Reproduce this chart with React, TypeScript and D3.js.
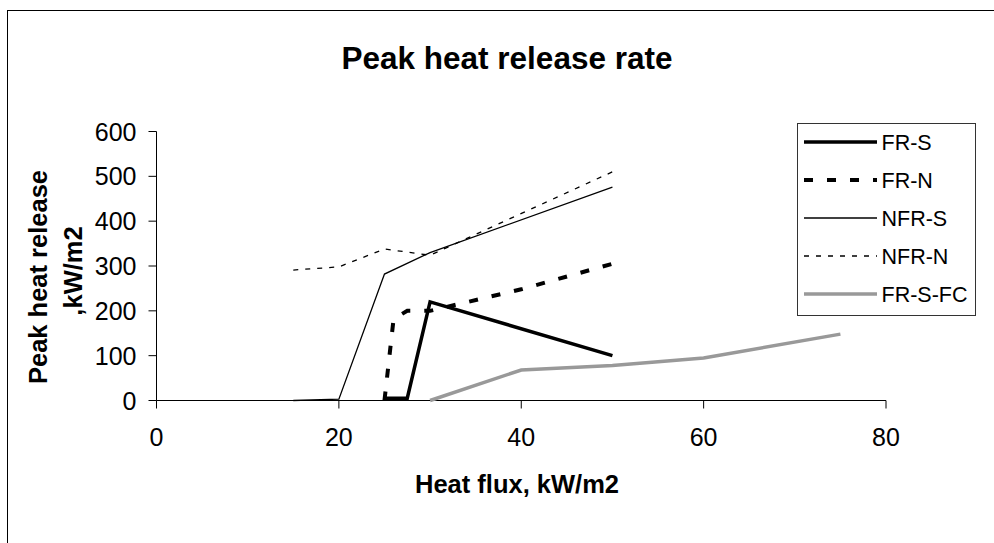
import React from "react";
import * as d3 from "d3";

const xTicks = [0, 20, 40, 60, 80];
const yTicks = [0, 100, 200, 300, 400, 500, 600];

const seriesNames = ["FR-S", "FR-N", "NFR-S", "NFR-N", "FR-S-FC"];

const frsX = [25, 27.5, 30, 50];
const frsY = [5, 5, 220, 100];

const frnX = [25, 26, 27.5, 30, 40, 50];
const frnY = [0, 182, 200, 200, 248, 305];

const nfrsX = [15, 20, 25, 30, 50];
const nfrsY = [0, 3, 282, 330, 476];

const nfrnX = [15, 20, 25, 30, 50];
const nfrnY = [291, 298, 338, 324, 510];

const frsfcX = [30, 40, 50, 60, 75];
const frsfcY = [0, 68, 78, 95, 148];

const styles = [
  { stroke: "#000", width: 3.5, dash: "" },
  { stroke: "#000", width: 4, dash: "9,14" },
  { stroke: "#000", width: 1.3, dash: "" },
  { stroke: "#000", width: 1.3, dash: "5,7" },
  { stroke: "#999", width: 3.5, dash: "" },
];

const FONT = "Arial, 'Liberation Sans', sans-serif";

export default function App() {
  const x = d3.scaleLinear().domain([0, 80]).range([156.5, 886]);
  const y = d3.scaleLinear().domain([0, 600]).range([400.5, 131.5]);
  const data = [
    [frsX, frsY],
    [frnX, frnY],
    [nfrsX, nfrsY],
    [nfrnX, nfrnY],
    [frsfcX, frsfcY],
  ];
  const line = d3
    .line<[number, number]>()
    .x((d) => x(d[0]))
    .y((d) => y(d[1]));

  const legendX = 797;
  const legendY = 123;
  const rowStep = 38;

  return (
    <svg
      width={994}
      height={543}
      style={{ position: "absolute", left: 0, top: 0, background: "#fff" }}
      fontFamily={FONT}
    >
      <rect x={0} y={0} width={994} height={543} fill="#fff" />
      <rect x={7.5} y={10.5} width={1000} height={600} fill="none" stroke="#000" strokeWidth={1} />
      <text x={507} y={69} textAnchor="middle" fontSize={31.5} fontWeight="bold">
        Peak heat release rate
      </text>

      {/* axes */}
      <line x1={x(0)} x2={x(80)} y1={y(0)} y2={y(0)} stroke="#000" strokeWidth={1} />
      <line x1={x(0)} x2={x(0)} y1={y(0)} y2={y(600)} stroke="#000" strokeWidth={1} />
      {yTicks.map((t) => (
        <g key={"y" + t}>
          <line x1={x(0) - 8} x2={x(0)} y1={y(t)} y2={y(t)} stroke="#000" />
          <text x={136.5} y={y(t) + 9} textAnchor="end" fontSize={25}>
            {t}
          </text>
        </g>
      ))}
      {xTicks.map((t) => (
        <g key={"x" + t}>
          <line x1={x(t)} x2={x(t)} y1={y(0)} y2={y(0) + 8} stroke="#000" />
          <text x={x(t)} y={446} textAnchor="middle" fontSize={25}>
            {t}
          </text>
        </g>
      ))}

      {/* series */}
      {data.map((d, i) => {
        const pts = d[0].map((v, j) => [v, d[1][j]] as [number, number]);
        const s = styles[i];
        return (
          <path
            key={seriesNames[i]}
            d={line(pts) || ""}
            fill="none"
            stroke={s.stroke}
            strokeWidth={s.width}
            strokeDasharray={s.dash || undefined}
          />
        );
      })}

      {/* axis titles */}
      <text x={517} y={493} textAnchor="middle" fontSize={25.5} fontWeight="bold">
        Heat flux, kW/m2
      </text>
      <g transform="translate(47,277) rotate(-90)">
        <text x={0} y={0} textAnchor="middle" fontSize={25.5} fontWeight="bold">
          Peak heat release
        </text>
      </g>
      <g transform="translate(82,271) rotate(-90)">
        <text x={0} y={0} textAnchor="middle" fontSize={25.5} fontWeight="bold">
          ,kW/m2
        </text>
      </g>

      {/* legend */}
      <rect x={legendX + 0.5} y={legendY + 0.5} width={178} height={192} fill="#fff" stroke="#333" />
      {seriesNames.map((n, i) => {
        const s = styles[i];
        const ly = legendY + 19 + i * rowStep;
        return (
          <g key={"l" + n}>
            <line
              x1={804}
              x2={877}
              y1={ly}
              y2={ly}
              stroke={s.stroke}
              strokeWidth={s.width}
              strokeDasharray={s.dash || undefined}
            />
            <text x={881.5} y={ly + 8} fontSize={21.5}>
              {n}
            </text>
          </g>
        );
      })}
    </svg>
  );
}
